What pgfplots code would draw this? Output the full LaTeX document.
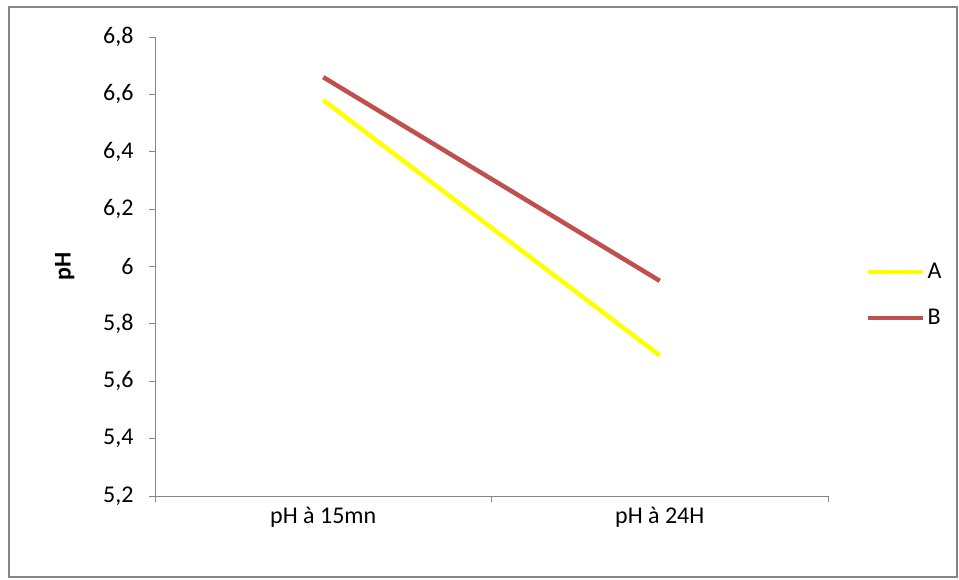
\documentclass[border=0pt]{standalone}
\usepackage{fontspec}
\setmainfont{Carlito}
\usepackage{pgfplots}
\pgfplotsset{compat=1.18}
\definecolor{axisgray}{HTML}{868686}
\definecolor{serA}{HTML}{FFFF00}
\definecolor{serB}{HTML}{C0504D}
\newcommand{\fs}{\fontsize{24}{28}\selectfont}
\begin{document}
\begin{tikzpicture}[x=1pt,y=1pt]
% chart area with its frame
\path[fill=white] (0,0) rectangle (959,-579);
\draw[axisgray, line width=1.5pt] (9,-7) rectangle (957,-577);
\begin{axis}[
  at={(155pt,-496pt)}, anchor=south west,
  scale only axis, width=673pt, height=459pt,
  xmin=-0.5, xmax=1.5, ymin=5.2, ymax=6.8,
  axis x line*=bottom, axis y line*=left,
  axis line style={axisgray, line width=1pt, -},
  xtick={0,1}, xticklabels={pH à 15mn, pH à 24H},
  minor xtick={-0.5,0.5,1.5},
  major x tick style={draw=none},
  minor x tick style={axisgray, line width=1pt},
  ytick={5.2,5.4,...,6.8},
  y tick style={axisgray, line width=1pt},
  tick align=outside, major tick length=6pt, minor tick length=6pt,
  /pgf/number format/assume math mode=true,
  /pgf/number format/use comma, /pgf/number format/fixed,
  /pgf/number format/precision=1,
  every tick label/.append style={font=\fs, text=black},
  yticklabel style={xshift=-12pt},
  xticklabel style={yshift=-2pt},
  ylabel={pH},
  ylabel style={at={(axis description cs:-0.134,0.5)}, anchor=center, font=\fs\bfseries},
  legend style={at={(axis description cs:1.0565,0.438)}, anchor=west, draw=none,
    font=\fs, inner xsep=0pt, row sep=25pt,
    legend cell align=left},
  legend image code/.code={\draw[#1] (0pt,0pt) -- (55pt,0pt);},
  clip=false,
]
\addplot[serA, line width=4.5pt] coordinates {(0,6.58) (1,5.69)};
\addlegendentry{A}
\addplot[serB, line width=4.5pt] coordinates {(0,6.66) (1,5.95)};
\addlegendentry{B}
\end{axis}
\end{tikzpicture}
\end{document}
